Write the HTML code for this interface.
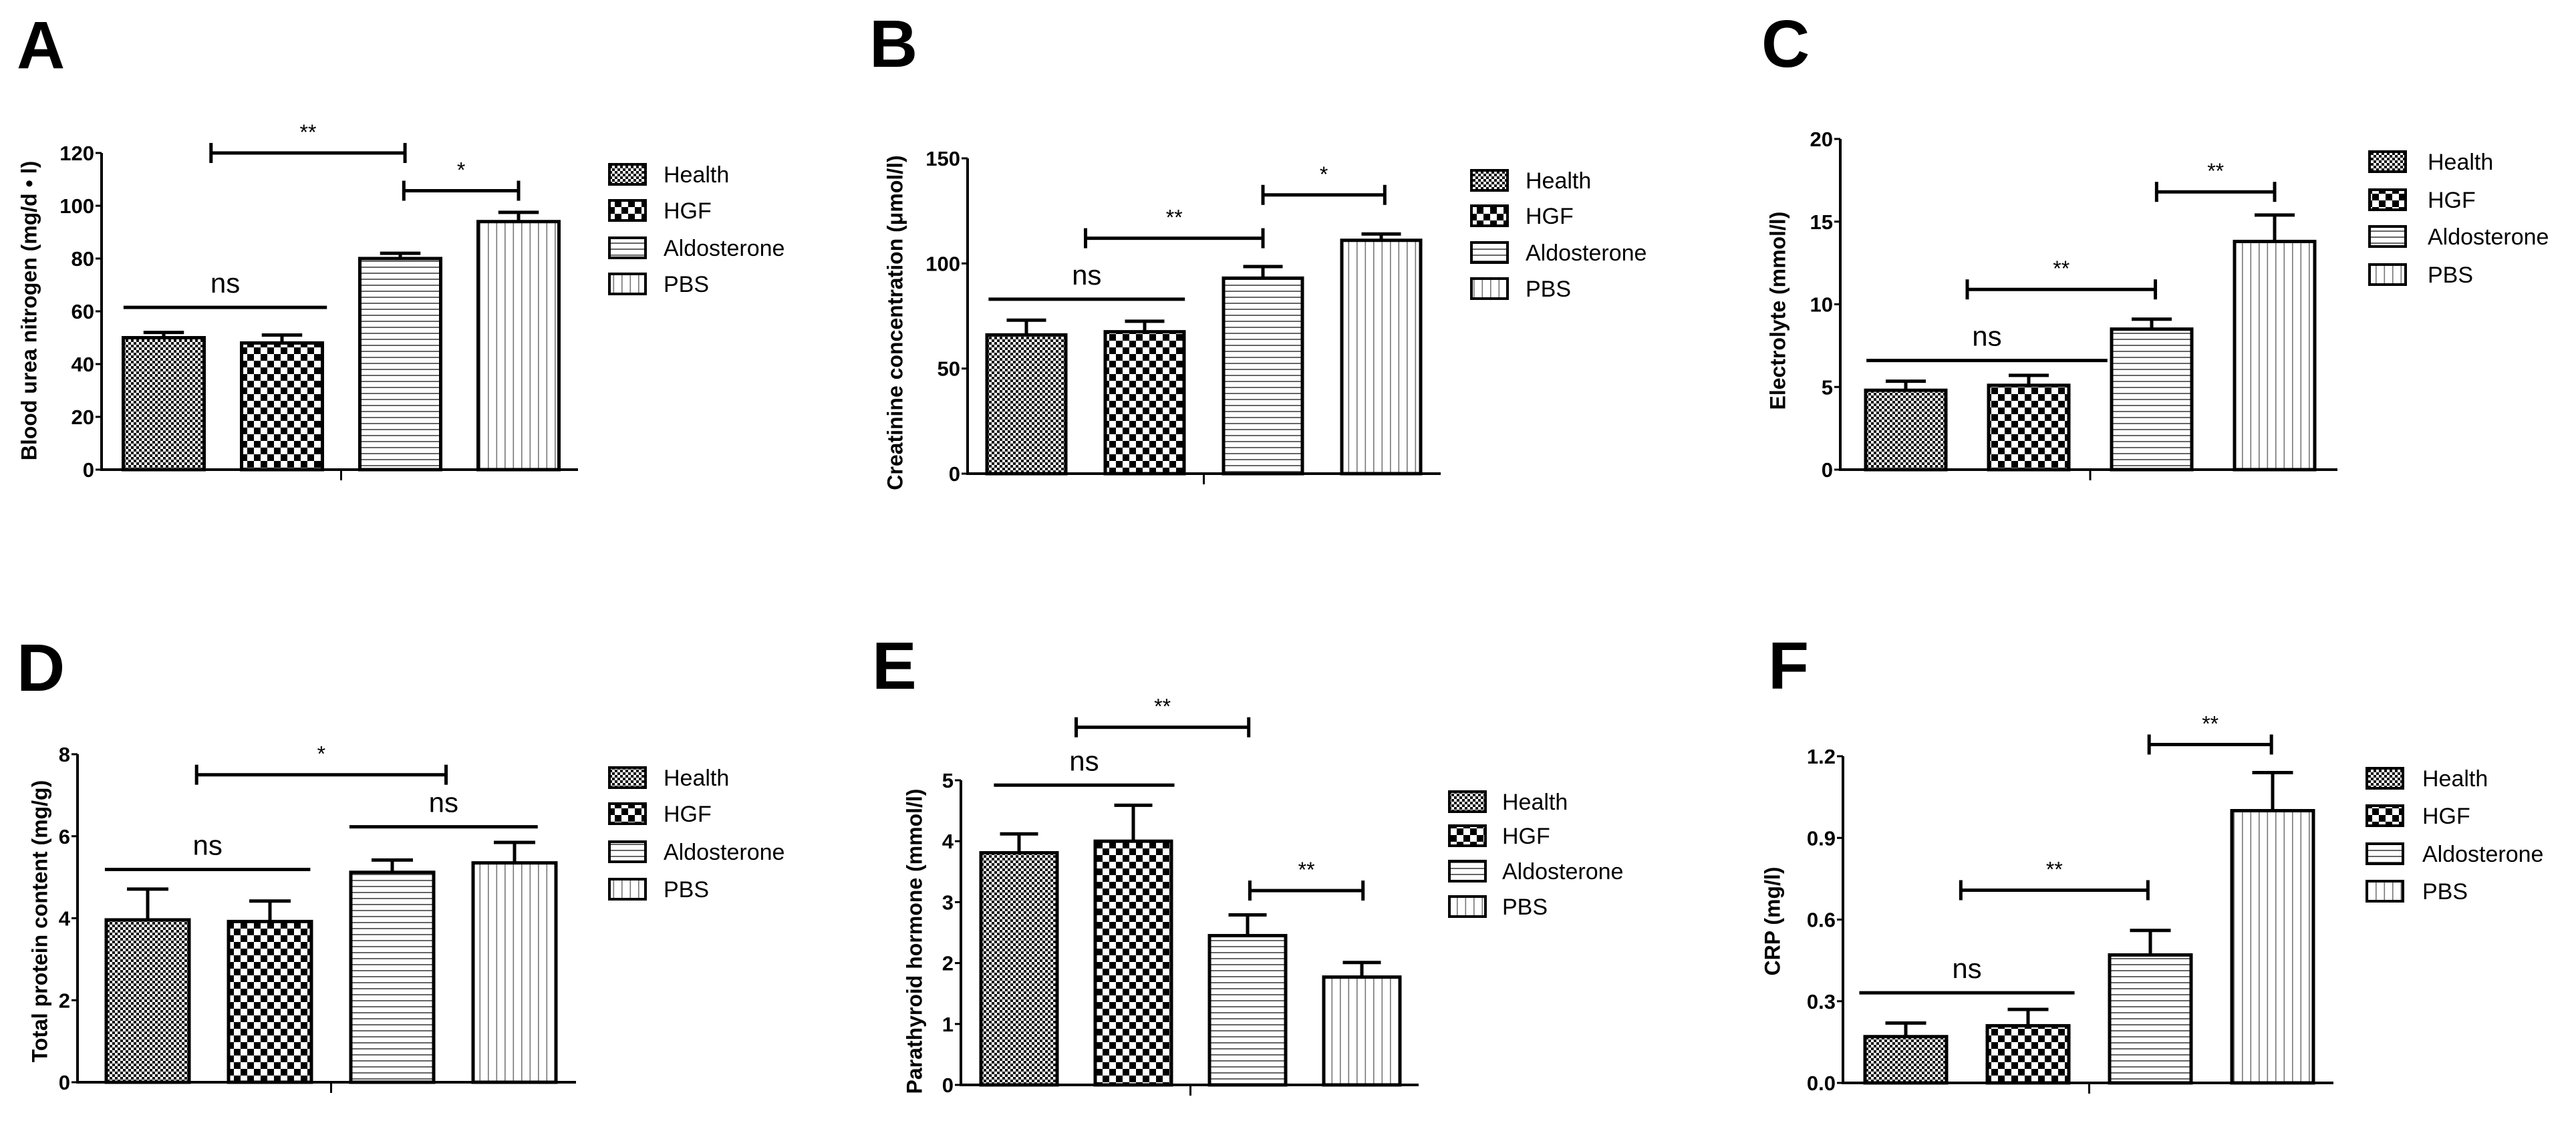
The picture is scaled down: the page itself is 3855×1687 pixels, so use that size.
<!DOCTYPE html>
<html><head><meta charset="utf-8"><style>
html,body{margin:0;padding:0;background:#fff;}
svg{display:block;}
text{font-family:"Liberation Sans",Arial,sans-serif;}
</style></head><body>
<svg id="fig" width="3855" height="1687" viewBox="0 0 3855 1687" xmlns="http://www.w3.org/2000/svg">
<defs>
<pattern id="p-health" width="8" height="8" patternUnits="userSpaceOnUse"><rect width="8" height="8" fill="#fff"/><rect width="4" height="4" fill="#111"/><rect x="4" y="4" width="4" height="4" fill="#111"/></pattern>
<pattern id="p-hgf" width="20" height="20" patternUnits="userSpaceOnUse"><rect width="20" height="20" fill="#fff"/><rect width="10" height="10" fill="#000"/><rect x="10" y="10" width="10" height="10" fill="#000"/></pattern>
<pattern id="p-aldo" width="9" height="9" patternUnits="userSpaceOnUse"><rect width="9" height="9" fill="#fff"/><rect y="3" width="9" height="2" fill="#666"/></pattern>
<pattern id="p-pbs" width="12.5" height="10" patternUnits="userSpaceOnUse"><rect width="12.5" height="10" fill="#fff"/><rect x="5" width="1.6" height="10" fill="#777"/></pattern>
</defs>
</svg>
<script>
const categories = ["Health","HGF","Aldosterone","PBS"];
const meansA = [50, 48, 80, 94];
const errsA = [2, 3, 2, 3.5];
const ticksA = [0,20,40,60,80,100,120];
const sigA = [["ns",-0.34,1.38,61.5,0],["**",0.4,2.04,120,1],["*",2.03,3.0,105.7,1]];
const meansB = [66, 67.5, 93, 111];
const errsB = [7, 5, 5.5, 3];
const ticksB = [0,50,100,150];
const sigB = [["ns",-0.32,1.34,83,0],["**",0.5,2.0,112,1],["*",2.0,3.03,132.6,1]];
const meansC = [4.8, 5.1, 8.5, 13.8];
const errsC = [0.55, 0.6, 0.6, 1.6];
const ticksC = [0,5,10,15,20];
const sigC = [["ns",-0.32,1.64,6.6,0],["**",0.5,2.03,10.9,1],["**",2.04,3.0,16.8,1]];
const meansD = [3.96, 3.92, 5.12, 5.35];
const errsD = [0.75, 0.5, 0.3, 0.5];
const ticksD = [0,2,4,6,8];
const sigD = [["ns",-0.35,1.33,5.19,0],["ns",1.65,3.19,6.23,0],["*",0.4,2.44,7.5,1]];
const meansE = [3.81, 4.0, 2.45, 1.77];
const errsE = [0.31, 0.59, 0.34, 0.24];
const ticksE = [0,1,2,3,4,5];
const sigE = [["ns",-0.22,1.36,4.92,0],["**",0.5,2.01,5.87,1],["**",2.02,3.01,3.19,1]];
const meansF = [0.17, 0.21, 0.47, 1.0];
const errsF = [0.05, 0.06, 0.09, 0.14];
const ticksF = ["0.0","0.3","0.6","0.9","1.2"];
const sigF = [["ns",-0.38,1.38,0.331,0],["**",0.45,1.98,0.708,1],["**",1.99,2.99,1.243,1]];

const NS = "http://www.w3.org/2000/svg";
const svg = document.getElementById("fig");
const fills = ["url(#p-health)","url(#p-hgf)","url(#p-aldo)","url(#p-pbs)"];
function mk(tag, attrs, parent){
  const e = document.createElementNS(NS, tag);
  for (const k in attrs) e.setAttribute(k, attrs[k]);
  (parent||svg).appendChild(e);
  return e;
}
const panels = [
 {id:"a",letter:"A",lx:25,ly:102,title:"Blood urea nitrogen (mg/d \u2022 l)",tx:46,ty:465,ax:152,y0:703,yt:229,xe:865,c0:245,sp:177,bw:121,max:120,lb:912,lt:993,rows:[261,315,371,425],means:meansA,errs:errsA,ticks:ticksA,sig:sigA},
 {id:"b",letter:"B",lx:1301,ly:100,title:"Creatinine concentration (\u03bcmol/l)",tx:1342,ty:483,ax:1448,y0:709,yt:237,xe:2156,c0:1536,sp:177,bw:118,max:150,lb:2202,lt:2283,rows:[270,323,378,432],means:meansB,errs:errsB,ticks:ticksB,sig:sigB},
 {id:"c",letter:"C",lx:2636,ly:100,title:"Electrolyte (mmol/l)",tx:2663,ty:465,ax:2754,y0:703,yt:208,xe:3498,c0:2852,sp:184,bw:120,max:20,lb:3546,lt:3633,rows:[242,299,354,411],means:meansC,errs:errsC,ticks:ticksC,sig:sigC},
 {id:"d",letter:"D",lx:25,ly:1034,title:"Total protein content (mg/g)",tx:62,ty:1379,ax:116,y0:1620,yt:1129,xe:862,c0:221,sp:183,bw:124,max:8,lb:912,lt:993,rows:[1164,1218,1275,1331],means:meansD,errs:errsD,ticks:ticksD,sig:sigD},
 {id:"e",letter:"E",lx:1305,ly:1031,title:"Parathyroid hormone (mmol/l)",tx:1371,ty:1409,ax:1438,y0:1624,yt:1168,xe:2123,c0:1525,sp:171,bw:114,max:5,lb:2169,lt:2248,rows:[1200,1251,1304,1357],means:meansE,errs:errsE,ticks:ticksE,sig:sigE},
 {id:"f",letter:"F",lx:2646,ly:1031,title:"CRP (mg/l)",tx:2655,ty:1379,ax:2758,y0:1621,yt:1132,xe:3492,c0:2852,sp:183,bw:122,max:1.2,lb:3542,lt:3625,rows:[1165,1221,1278,1334],means:meansF,errs:errsF,ticks:ticksF,sig:sigF}
];
panels.forEach(p => {
  const g = mk("g", {});
  
  
  const yS = v => p.y0 - (v / p.max) * (p.y0 - p.yt);
  const xS = i => p.c0 + i * p.sp;
  const L = mk("text", {x:p.lx, y:p.ly, "font-size":100, "font-weight":"bold"}, g);
  L.textContent = p.letter;
  
  
  const T = mk("text", {x:p.tx, y:p.ty, "font-size":32, "font-weight":"bold", "text-anchor":"middle", "dominant-baseline":"middle", transform:`rotate(-90 ${p.tx} ${p.ty})`}, g);
  T.textContent = p.title;
  
  
  // bars
  p.means.forEach((m, i) => {
    const x = xS(i) - p.bw/2, y = yS(m);
    const r = mk("rect", {x:x, y:y, width:p.bw, height:p.y0 - y, fill:fills[i], stroke:"#000", "stroke-width":5}, g);
    
    
    const ye = yS(m + p.errs[i]);
    const e1 = mk("line", {x1:xS(i), x2:xS(i), y1:y, y2:ye, stroke:"#000", "stroke-width":5}, g);
    
    
    const e2 = mk("line", {x1:xS(i) - p.bw/4, x2:xS(i) + p.bw/4, y1:ye, y2:ye, stroke:"#000", "stroke-width":5}, g);
    
    
  });
  // axes
  const ya = mk("line", {x1:p.ax, x2:p.ax, y1:p.yt, y2:p.y0 + 2, stroke:"#000", "stroke-width":4}, g);
  
  
  const xa = mk("line", {x1:p.ax - 2, x2:p.xe, y1:p.y0, y2:p.y0, stroke:"#000", "stroke-width":4}, g);
  
  
  const mid = (xS(1) + xS(2)) / 2;
  const xt = mk("line", {x1:mid, x2:mid, y1:p.y0, y2:p.y0 + 16, stroke:"#000", "stroke-width":3}, g);
  
  
  p.ticks.forEach(t => {
    const v = parseFloat(t), y = yS(v);
    const tk = mk("line", {x1:p.ax - 9, x2:p.ax, y1:y, y2:y, stroke:"#000", "stroke-width":3}, g);
    
    
    const tl = mk("text", {x:p.ax - 11, y:y + 11, "font-size":31, "font-weight":"bold", "text-anchor":"end"}, g);
    tl.textContent = String(t);
    
    
  });
  // significance
  p.sig.forEach(s => {
    const x1 = xS(s[1]), x2 = xS(s[2]), y = yS(s[3]);
    const l = mk("line", {x1:x1, x2:x2, y1:y, y2:y, stroke:"#000", "stroke-width":5}, g);
    
    
    if (s[4]) {
      [x1, x2].forEach(xx => {
        const c = mk("line", {x1:xx, x2:xx, y1:y - 15, y2:y + 15, stroke:"#000", "stroke-width":5}, g);
        
        
      });
    }
    const isNs = s[0] === "ns";
    const lab = mk("text", {x:(x1 + x2)/2, y:isNs ? y - 22 : y - 20, "font-size":isNs ? 42 : 32, "text-anchor":"middle"}, g);
    lab.textContent = s[0];
    
    
  });
  // legend
  categories.forEach((c, i) => {
    const ry = p.rows[i];
    const b = mk("rect", {x:p.lb, y:ry - 15, width:54, height:30, fill:fills[i], stroke:"#000", "stroke-width":4}, g);
    
    
    const t = mk("text", {x:p.lt, y:ry + 12, "font-size":34}, g);
    t.textContent = c;
    
    
  });
});
</script>
</body></html>
